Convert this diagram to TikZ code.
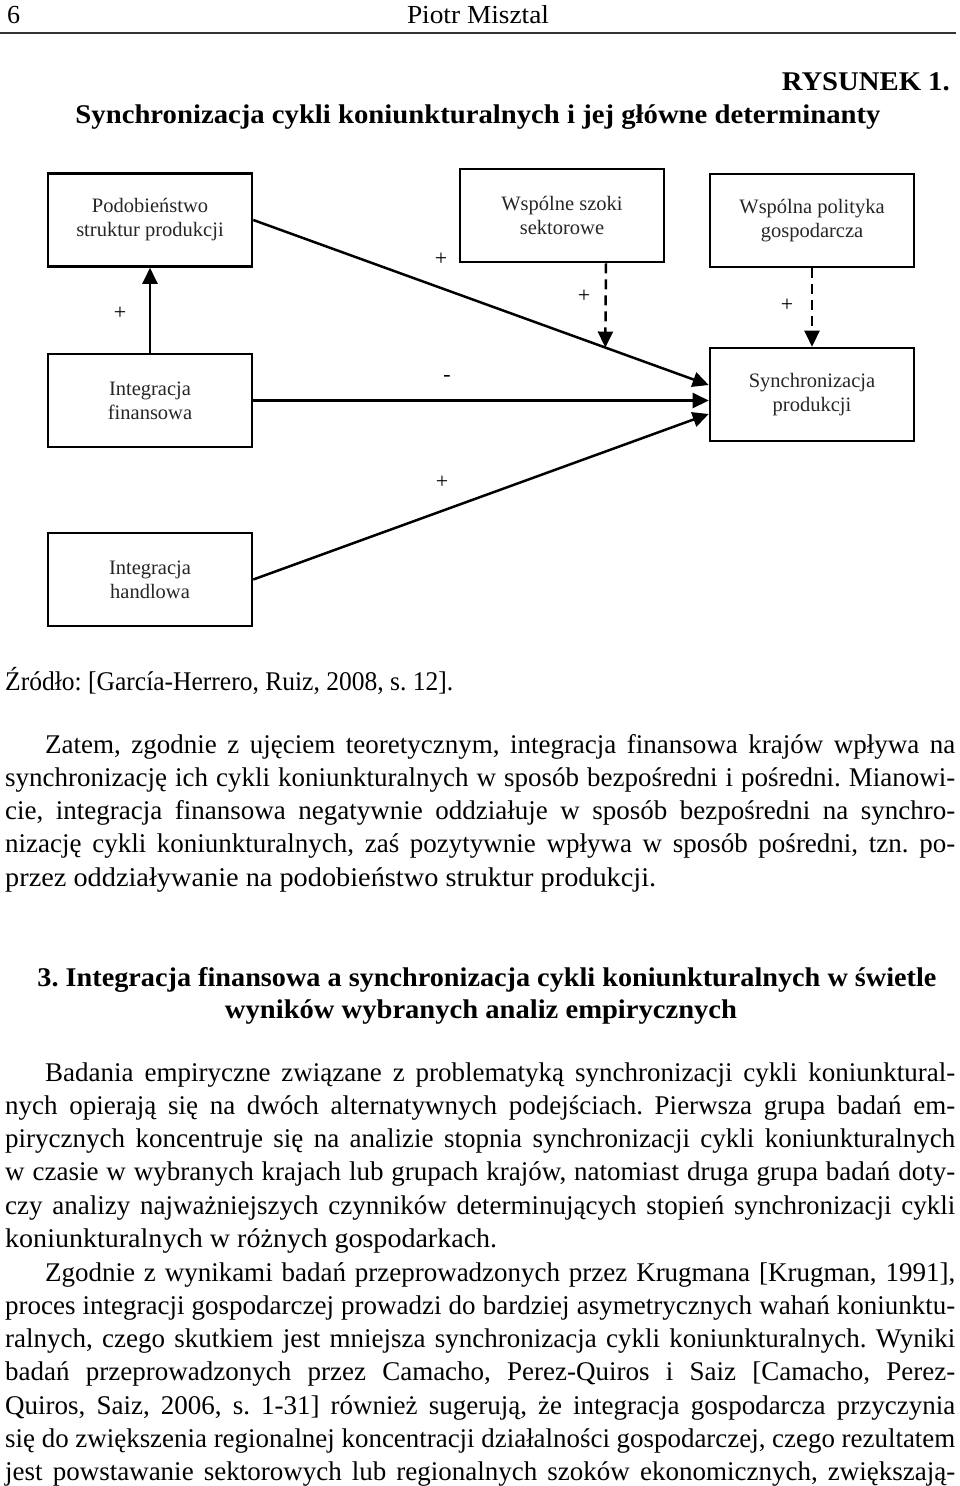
\documentclass[tikz,border=0pt]{standalone}
\usepackage{fontspec}
\setmainfont{Liberation Serif}
\usepackage{graphicx}
\usetikzlibrary{arrows.meta,calc}
\frenchspacing
\newlength\natw
\newcommand\fitline[2]{\settowidth\natw{#2}\ifdim\natw>#1\relax\resizebox{#1}{\height}{#2}\else\makebox[#1][s]{#2}\fi}
\newcommand\scaleline[2]{\resizebox{#1}{\height}{#2}}
\tikzset{
  box/.style={draw, line width=2.6pt, minimum width=204pt, minimum height=93pt, inner sep=0pt,
    align=center, text=black!85, font=\fontsize{20.5}{24}\selectfont},
  arr/.style={line width=2.5pt, -{Triangle[length=16pt,width=15pt]}},
  darr/.style={arr, dash pattern=on 10pt off 6pt},
  sign/.style={inner sep=0pt, font=\fontsize{22}{24}\selectfont},
  txt/.style={inner sep=0pt, anchor=base west, font=\fontsize{27}{33}\selectfont\frenchspacing},
  hd/.style={inner sep=0pt, anchor=base, font=\fontsize{27}{33}\selectfont\bfseries},
}
\begin{document}
\begin{tikzpicture}[x=1pt,y=-1pt]
\useasboundingbox[fill=white] (0,0) rectangle (960,1486);
% header
\node[txt, font=\fontsize{26}{30}\selectfont] (pg) at (7,23) {6};
\node[inner sep=0pt, anchor=base, font=\fontsize{26}{30}\selectfont] (auth) at (478,23) {\scaleline{142pt}{Piotr Misztal}};
\coordinate (rl) at (0,33);
\coordinate (rr) at (956,33);
\draw[line width=1.8pt, black!80] (rl) -- (rr);
\node[inner sep=0pt, anchor=base east, font=\fontsize{27}{30}\selectfont\bfseries] (fig) at (950,90) {\scaleline{168pt}{RYSUNEK 1.}};
\node[hd] (title) at (478,123) {\scaleline{805pt}{Synchronizacja cykli koniunkturalnych i jej główne determinanty}};
% diagram
\node[box] (pod) at (150,220) {Podobieństwo\\struktur produkcji};
\node[box] (shock) at (562,215.5) {Wspólne szoki\\sektorowe};
\node[box] (pol) at (812,220.5) {Wspólna polityka\\gospodarcza};
\node[box] (fin) at (150,400.5) {Integracja\\finansowa};
\node[box] (syn) at (812,394.5) {Synchronizacja\\produkcji};
\node[box] (han) at (150,579.5) {Integracja\\handlowa};
\draw[arr] (fin.north) -- (pod.south);
\draw[arr] (pod.east) -- ($(syn.west)+(0,-9.5)$) coordinate[pos=0.773] (hit);
\draw[arr] (fin.east) -- (fin.east -| syn.west);
\draw[arr] (han.east) -- ($(syn.west)+(0,19.5)$);
\draw[darr] ($(shock.south)+(44,0)$) -- (hit);
\draw[darr] (pol.south) -- (syn.north);
\node[sign] (s1) at (120,313) {+};
\node[sign] (s2) at (441,259) {+};
\node[sign] (s3) at (584,296) {+};
\node[sign] (s4) at (787,305) {+};
\node[sign] (s5) at (447,378) {-};
\node[sign] (s6) at (442,482) {+};
% source
\node[txt] (src) at (5,690) {\scaleline{448pt}{Źródło: [García-Herrero, Ruiz, 2008, s. 12].}};
% paragraph 1
\node[txt] (p1a) at (45,753) {\fitline{910pt}{Zatem, zgodnie z ujęciem teoretycznym, integracja finansowa krajów wpływa na}};
\node[txt] (p1b) at (5,786.3) {\fitline{950pt}{synchronizację ich cykli koniunkturalnych w sposób bezpośredni i pośredni. Mianowi-}};
\node[txt] (p1c) at (5,819.6) {\fitline{950pt}{cie, integracja finansowa negatywnie oddziałuje w sposób bezpośredni na synchro-}};
\node[txt] (p1d) at (5,852.9) {\fitline{950pt}{nizację cykli koniunkturalnych, zaś pozytywnie wpływa w sposób pośredni, tzn. po-}};
\node[txt] (p1e) at (5,886.2) {\scaleline{651pt}{przez oddziaływanie na podobieństwo struktur produkcji.}};
% heading
\node[hd] (h1) at (487,986) {\scaleline{899pt}{3. Integracja finansowa a synchronizacja cykli koniunkturalnych w świetle}};
\node[hd] (h2) at (481,1018) {\scaleline{512pt}{wyników wybranych analiz empirycznych}};
% paragraph 2
\node[txt] (p2a) at (45,1081) {\fitline{910pt}{Badania empiryczne związane z problematyką synchronizacji cykli koniunktural-}};
\node[txt] (p2b) at (5,1114.3) {\fitline{950pt}{nych opierają się na dwóch alternatywnych podejściach. Pierwsza grupa badań em-}};
\node[txt] (p2c) at (5,1147.6) {\fitline{950pt}{pirycznych koncentruje się na analizie stopnia synchronizacji cykli koniunkturalnych}};
\node[txt] (p2d) at (5,1180.9) {\fitline{950pt}{w czasie w wybranych krajach lub grupach krajów, natomiast druga grupa badań doty-}};
\node[txt] (p2e) at (5,1214.2) {\fitline{950pt}{czy analizy najważniejszych czynników determinujących stopień synchronizacji cykli}};
\node[txt] (p2f) at (5,1247.5) {\scaleline{492pt}{koniunkturalnych w różnych gospodarkach.}};
% paragraph 3
\node[txt] (p3a) at (45,1281) {\fitline{910pt}{Zgodnie z wynikami badań przeprowadzonych przez Krugmana [Krugman, 1991],}};
\node[txt] (p3b) at (5,1314.3) {\fitline{950pt}{proces integracji gospodarczej prowadzi do bardziej asymetrycznych wahań koniunktu-}};
\node[txt] (p3c) at (5,1347.6) {\fitline{950pt}{ralnych, czego skutkiem jest mniejsza synchronizacja cykli koniunkturalnych. Wyniki}};
\node[txt] (p3d) at (5,1380.9) {\fitline{950pt}{badań przeprowadzonych przez Camacho, Perez-Quiros i Saiz [Camacho, Perez-}};
\node[txt] (p3e) at (5,1414.2) {\fitline{950pt}{Quiros, Saiz, 2006, s. 1-31] również sugerują, że integracja gospodarcza przyczynia}};
\node[txt] (p3f) at (5,1447.5) {\fitline{950pt}{się do zwiększenia regionalnej koncentracji działalności gospodarczej, czego rezultatem}};
\node[txt] (p3g) at (5,1480.8) {\fitline{950pt}{jest powstawanie sektorowych lub regionalnych szoków ekonomicznych, zwiększają-}};
\end{tikzpicture}
\end{document}
